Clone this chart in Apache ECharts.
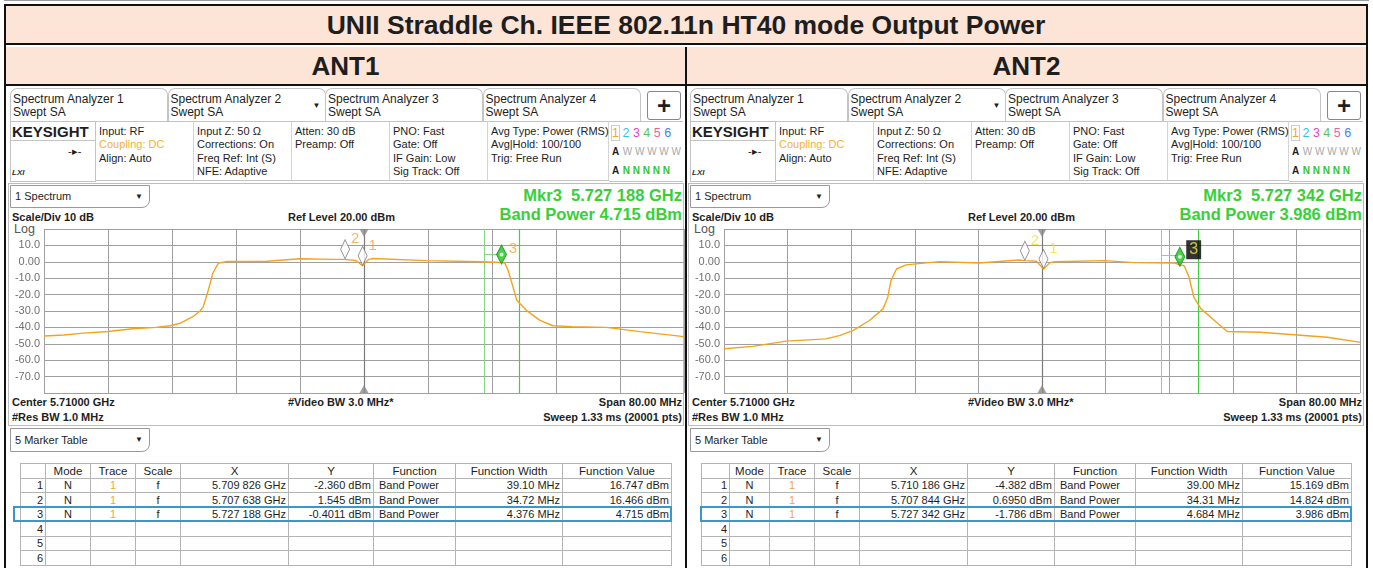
<!DOCTYPE html>
<html>
<head>
<meta charset="utf-8">
<script src="https://cdn.jsdelivr.net/npm/echarts@6/dist/echarts.min.js"></script>
<style>
body { margin: 0; width: 1373px; height: 568px; overflow: hidden; background: #fff; position: relative;
  font-family: "Liberation Sans", Arial, sans-serif; color: #1e1e1e; }
.a { position: absolute; white-space: nowrap; box-sizing: border-box; }
.info { font-size: 11px; line-height: 13.3px; padding: 3px 0 0 3px; border-right: 1px solid #d4d4d4; height: 60px; }
.b { font-weight: bold; font-size: 11px; }
table.mk { position: absolute; border-collapse: collapse; font-size: 11px; table-layout: fixed; }
table.mk td { border: 1px solid #b4b4b4; height: 13.5px; padding: 0 2px; line-height: 12px; overflow: hidden; white-space: nowrap; }
</style>
</head>
<body>
<script>
// sweep settings
const startGHz = 5.67
const spanMHz = 80
const refLevel = 20
const scaleDiv = 10

// trace 1, frequency as MHz from start of span, level in dBm
const ant1Freq = [0, 2.5, 4.9, 8, 11.1, 14, 15.8, 17.0, 18.6, 19.5, 19.9, 20.5, 21.1, 21.8, 22.9, 27.9, 32.0, 36.2, 37.6, 39.0, 39.8, 40.6, 41.1, 47.8, 54.5, 57.2, 57.6, 58.0, 58.6, 59.1, 60.3, 62.0, 63.6, 66, 70.3, 74.5, 79.7, 80]
const ant1Level = [-45.2, -44.6, -43.5, -42.5, -40.8, -40.0, -39.0, -37.5, -33.5, -30, -27.5, -18, -7, -0.8, 0.2, 0.3, 1.9, 1.5, 1.5, 0.8, -2.4, 1.5, 2.0, 0.7, 0.0, -0.4, -0.8, -5, -15, -23.5, -29.6, -35.7, -39, -39.5, -40, -42.6, -45.5, -45.7]
const ant2Freq = [0, 3.6, 7.8, 12.8, 14.5, 16.2, 18.3, 20.0, 20.6, 21.0, 21.7, 22.9, 27.1, 32.1, 37.1, 37.8, 39.3, 40.2, 41.0, 41.6, 47.9, 51.6, 56.6, 57.3, 57.9, 58.5, 59.1, 60.0, 61.7, 63.3, 67.5, 71.7, 75.9, 79.9, 80]
const ant2Level = [-53, -51.6, -48.4, -47, -45, -42, -35.8, -28.7, -21.6, -11.5, -4.4, -1.9, 0.1, -0.7, 1.1, 0.7, 0.3, -4.4, -0.5, 0, 0.7, -0.5, -0.7, -1.8, -2.5, -9.4, -21.6, -28.7, -35.8, -42.5, -43, -44.5, -46, -49, -49.2]

// marker table
const ant1MarkerX = [5.709826, 5.707638, 5.727188]
const ant1MarkerY = ['-2.360', '1.545', '-0.4011']
const ant1FnWidth = ['39.10', '34.72', '4.376']
const ant1FnValue = ['16.747', '16.466', '4.715']
const ant2MarkerX = [5.710186, 5.707844, 5.727342]
const ant2MarkerY = ['-4.382', '0.6950', '-1.786']
const ant2FnWidth = ['39.00', '34.31', '4.684']
const ant2FnValue = ['15.169', '14.824', '3.986']

const tabNames = ['Spectrum Analyzer 1', 'Spectrum Analyzer 2', 'Spectrum Analyzer 3', 'Spectrum Analyzer 4']
const infoCols = [
  ['Input: RF', 'Coupling: DC', 'Align: Auto'],
  ['Input Z: 50 Ω', 'Corrections: On', 'Freq Ref: Int (S)', 'NFE: Adaptive'],
  ['Atten: 30 dB', 'Preamp: Off'],
  ['PNO: Fast', 'Gate: Off', 'IF Gain: Low', 'Sig Track: Off'],
  ['Avg Type: Power (RMS)', 'Avg|Hold: 100/100', 'Trig: Free Run']
]
const tableHead = ['', 'Mode', 'Trace', 'Scale', 'X', 'Y', 'Function', 'Function Width', 'Function Value']

const panels = [
  { name: 'ANT1', x0: 8, plotLeft: 44, plotWidth: 640, freq: ant1Freq, level: ant1Level,
    mx: ant1MarkerX, my: ant1MarkerY, fw: ant1FnWidth, fv: ant1FnValue, labelColor: '#f2a53a', boxed: false,
    tableLeft: 20, hiLeft: 13, cols: [25, 45, 45, 45, 108, 85, 82, 107, 109] },
  { name: 'ANT2', x0: 688, plotLeft: 724, plotWidth: 636, freq: ant2Freq, level: ant2Level,
    mx: ant2MarkerX, my: ant2MarkerY, fw: ant2FnWidth, fv: ant2FnValue, labelColor: '#f0e438', boxed: true,
    tableLeft: 701, hiLeft: 700, cols: [28, 40, 45, 45, 108, 87, 81, 107, 109] }
]

const box = (css, html) => {
  const d = document.createElement('div')
  d.className = 'a'
  d.style.cssText = css
  if (html != null) d.innerHTML = html
  document.body.appendChild(d)
  return d
}
const fmtGHz = v => { const s = v.toFixed(6); return s.slice(0, 5) + ' ' + s.slice(5) + ' GHz' }

// outer report table
box('left:4px;top:0;width:1365px;height:2px;border-top:1px solid #999')
box('left:4px;top:4px;width:1364px;height:564px;border:2px solid #111;border-bottom:none')
box('left:6px;top:6px;width:1360px;height:39px;background:#fce4d6;border-bottom:2px solid #111;text-align:center;font-weight:bold;font-size:26.5px;line-height:39px',
  'UNII Straddle Ch. IEEE 802.11n HT40 mode Output Power')
box('left:6px;top:47px;width:1360px;height:39px;background:#fce4d6;border-bottom:2px solid #111')
box('left:685px;top:47px;width:2px;height:521px;background:#111')
panels.forEach((p, i) => {
  box(`left:${6 + i * 681}px;top:47px;width:679px;height:39px;text-align:center;font-weight:bold;font-size:26px;line-height:39px`, p.name)
})

panels.forEach(p => {
  const x = p.x0
  // tabs
  tabNames.forEach((t, k) => {
    box(`left:${x + 2 + 157.5 * k}px;top:88px;width:158px;height:34px;border:1px solid #c4c4c4;border-bottom:none;border-radius:7px 7px 0 0;font-size:12px;line-height:13px;padding:4px 0 0 2px`,
      t + '<br>Swept SA' + (k === 1 ? '<span style="position:absolute;right:4px;top:10px;font-size:8px">▼</span>' : ''))
  })
  box(`left:${x + 639}px;top:91px;width:34px;height:29px;border:1px solid #888;border-radius:3px;text-align:center;font-size:24px;font-weight:bold;line-height:27px`, '+')
  // info row
  box(`left:${x + 2}px;top:121px;width:86px;height:61px;border:1px solid #c4c4c4`)
  box(`left:${x + 2}px;top:121px;width:86px;height:20px;border-bottom:1px solid #c4c4c4;font-weight:bold;font-size:15px;line-height:21px;padding-left:2px`, 'KEYSIGHT')
  box(`left:${x + 60}px;top:145px;font-size:11px`, '-▸-')
  box(`left:${x + 4}px;top:168px;font-size:8px;font-style:italic;font-weight:bold;color:#333`, 'LXI')
  const colX = [88, 186, 284, 382, 480]
  const colW = [98, 98, 98, 98, 121]
  infoCols.forEach((c, k) => {
    const html = c.map(s => s === 'Coupling: DC' ? `<span style="color:#f2b233">${s}</span>` : s).join('<br>')
    const d = box(`left:${x + colX[k]}px;top:121px;width:${colW[k]}px;border-top:1px solid #c4c4c4;border-bottom:1px solid #c4c4c4`, html)
    d.classList.add('info')
  })
  const trc = ['#f2a53a', '#2fc4e8', '#d847c4', '#5cc25c', '#ef5f9a', '#3d7ff0']
  box(`left:${x + 601}px;top:121px;width:74px;height:61px;border-top:1px solid #c4c4c4;border-bottom:1px solid #c4c4c4;font-size:12.5px;line-height:18px;padding:2px 0 0 3px`,
    trc.map((c, k) => `<span style="color:${c};${k === 0 ? 'outline:1px solid #ccc;' : ''}">${k + 1}</span>`).join('&nbsp;') +
    '<br><b style="font-size:10px">A</b> <span style="color:#a8a8a8;font-size:10px">W W W W W</span>' +
    '<br><b style="font-size:10px">A</b> <span style="color:#33c433;font-size:10px;font-weight:bold">N N N N N</span>')

  // measurement frame
  box(`left:${x}px;top:183px;width:676px;height:243px;border:1px solid #bdbdbd`)
  box(`left:${x + 2}px;top:185px;width:140px;height:23px;border:1px solid #9a9a9a;border-radius:0 0 8px 0;background:#fff;font-size:11px;line-height:21px;padding-left:4px`,
    '1 Spectrum<span style="position:absolute;right:6px;top:0;font-size:8px">▼</span>')
  const a = 2
  box(`left:${x + 300}px;top:186px;width:374px;text-align:right;font-weight:bold;font-size:16.5px;color:#38d038`,
    `Mkr3&nbsp; ${fmtGHz(p.mx[a])}`)
  box(`left:${x + 300}px;top:205px;width:374px;text-align:right;font-weight:bold;font-size:16.5px;color:#38d038`,
    `Band Power ${p.fv[a]} dBm`)
  box(`left:${x + 4}px;top:211px`, `Scale/Div ${scaleDiv} dB`).classList.add('b')
  box(`left:${x + 280}px;top:211px`, `Ref Level ${refLevel.toFixed(2)} dBm`).classList.add('b')
  box(`left:${x + 6}px;top:222px;font-size:12.5px;color:#555`, 'Log')

  // below the plot
  box(`left:${x + 4}px;top:396px`, `Center ${(startGHz + spanMHz / 2000).toFixed(5)} GHz`).classList.add('b')
  box(`left:${x + 280}px;top:396px`, '#Video BW 3.0 MHz*').classList.add('b')
  box(`left:${x + 300}px;top:396px;width:374px;text-align:right`, `Span ${spanMHz.toFixed(2)} MHz`).classList.add('b')
  box(`left:${x + 4}px;top:411px`, '#Res BW 1.0 MHz').classList.add('b')
  box(`left:${x + 300}px;top:411px;width:374px;text-align:right`, 'Sweep 1.33 ms (20001 pts)').classList.add('b')
  box(`left:${x + 2}px;top:428px;width:140px;height:24px;border:1px solid #9a9a9a;border-radius:0 0 8px 0;font-size:11px;line-height:22px;padding-left:4px`,
    '5 Marker Table<span style="position:absolute;right:6px;top:0;font-size:8px">▼</span>')

  // marker table
  const t = document.createElement('table')
  t.className = 'mk'
  t.style.left = p.tableLeft + 'px'
  t.style.top = '463px'
  const tw = p.cols.reduce((s, w) => s + w, 0)
  t.style.width = tw + 'px'
  let h = '<colgroup>' + p.cols.map(w => `<col style="width:${w}px">`).join('') + '</colgroup>'
  h += '<tr>' + tableHead.map(s => `<td style="text-align:center;font-size:11.5px">${s}</td>`).join('') + '</tr>'
  for (let r = 0; r < 6; r++) {
    if (r < p.mx.length) {
      h += `<tr><td style="text-align:right">${r + 1}</td><td style="text-align:center">N</td>` +
        '<td style="text-align:center;color:#f2a53a">1</td><td style="text-align:center">f</td>' +
        `<td style="text-align:right">${fmtGHz(p.mx[r])}</td><td style="text-align:right">${p.my[r]} dBm</td>` +
        `<td style="padding-left:5px">Band Power</td><td style="text-align:right">${p.fw[r]} MHz</td>` +
        `<td style="text-align:right">${p.fv[r]} dBm</td></tr>`
    } else {
      h += `<tr><td style="text-align:right">${r + 1}</td>` + '<td></td>'.repeat(8) + '</tr>'
    }
  }
  t.innerHTML = h
  document.body.appendChild(t)
  box(`left:${p.hiLeft}px;top:506px;width:${p.tableLeft + tw + 1 - p.hiLeft}px;height:16px;border:2px solid #3a97c9`)

  // spectrum plot
  const div = box(`left:${x}px;top:225px;width:678px;height:172px`)
  const chart = echarts.init(div)
  const mX = p.mx.map(v => (v - startGHz) * 1000)
  const mY = p.my.map(Number)
  const bw = Number(p.fw[a])
  const bandL = mX[a] - bw / 2
  const bandR = mX[a] + bw / 2
  const bandPow = Number(p.fv[a])
  chart.setOption({
    animation: false,
    grid: { left: p.plotLeft - x, top: 4, width: p.plotWidth, height: 164 },
    xAxis: {
      type: 'value', min: 0, max: spanMHz, interval: spanMHz / 10,
      axisLabel: { show: false }, axisTick: { show: false },
      axisLine: { show: false },
      splitLine: { lineStyle: { color: '#a0a0a0', width: 1 } }
    },
    yAxis: {
      type: 'value', min: refLevel - scaleDiv * 10, max: refLevel, interval: scaleDiv,
      axisTick: { show: false }, axisLine: { show: false },
      axisLabel: {
        color: '#707070', fontSize: 11, margin: 4, showMinLabel: false, showMaxLabel: false,
        fontFamily: 'Liberation Sans',
        formatter: v => (v === 0 ? '0.00' : v.toFixed(1))
      },
      splitLine: { lineStyle: { color: '#a0a0a0', width: 1 } }
    },
    series: [
      {
        type: 'line',
        data: p.freq.map((f, k) => [f, p.level[k]]),
        showSymbol: false,
        lineStyle: { color: '#f4a31f', width: 1.4 },
        z: 5,
        markLine: {
          silent: true, symbol: 'none', label: { show: false },
          data: [
            { xAxis: spanMHz / 2, lineStyle: { color: '#7a7a7a', width: 1.2, type: 'solid' } },
            { xAxis: bandL, lineStyle: { color: '#86d886', width: 1, type: 'solid' } },
            { xAxis: bandR, lineStyle: { color: '#3fd23f', width: 1.2, type: 'solid' } },
            [{ coord: [bandL, bandPow], lineStyle: { color: '#86d886', width: 1, type: 'solid' } }, { coord: [mX[a], bandPow] }]
          ]
        }
      },
      {
        type: 'scatter',
        z: 6,
        data: [0, 1].map(k => ({ value: [mX[k], mY[k]], name: String(k + 1) })),
        symbol: 'diamond',
        symbolSize: [9, 19],
        symbolOffset: [0, -10],
        itemStyle: { color: '#fff', borderColor: '#777', borderWidth: 1 },
        label: {
          show: true, position: 'right', distance: 1, offset: [0, -10],
          formatter: '{b}', color: p.labelColor, fontSize: 15, fontFamily: 'Liberation Sans'
        }
      },
      {
        type: 'scatter',
        z: 7,
        data: [{ value: [mX[a], mY[a]], name: String(a + 1) }],
        symbol: 'diamond',
        symbolSize: [10, 19],
        symbolOffset: [0, -8],
        itemStyle: { color: '#21c421', borderColor: '#138a13', borderWidth: 1 },
        label: p.boxed
          ? { show: true, position: 'right', distance: 1, offset: [0, -7], formatter: '{b}', color: p.labelColor,
              fontSize: 16, backgroundColor: '#000', padding: [2, 3, 1, 3], fontFamily: 'Liberation Sans' }
          : { show: true, position: 'right', distance: 2, offset: [0, -6], formatter: '{b}', color: p.labelColor,
              fontSize: 15, fontFamily: 'Liberation Sans' }
      },
      {
        type: 'scatter',
        z: 8,
        data: [[mX[a], mY[a]]],
        symbol: 'circle',
        symbolSize: 4,
        symbolOffset: [0, -8],
        itemStyle: { color: '#fff' }
      },
      {
        type: 'scatter',
        z: 8,
        data: [
          { value: [spanMHz / 2, refLevel], symbolRotate: 180, symbolOffset: [0, 4] },
          { value: [spanMHz / 2, refLevel - scaleDiv * 10], symbolOffset: [0, -4] }
        ],
        symbol: 'triangle',
        symbolSize: [9, 8],
        itemStyle: { color: '#8a8a8a' }
      }
    ]
  })
})
</script>
</body>
</html>
